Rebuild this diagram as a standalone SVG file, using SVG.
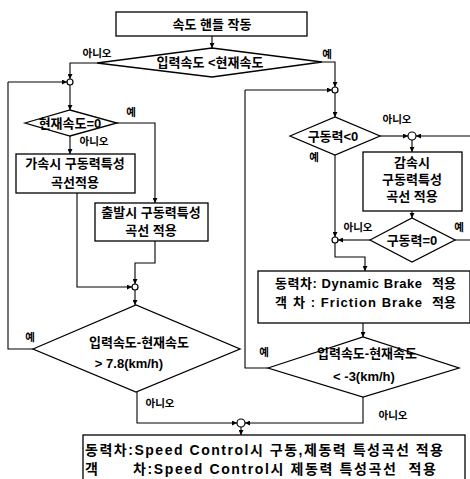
<svg xmlns="http://www.w3.org/2000/svg" width="470" height="479" viewBox="0 0 470 479">
<defs>
<marker id="ah" viewBox="0 0 10 10" refX="10" refY="5" markerWidth="5" markerHeight="5" orient="auto" markerUnits="userSpaceOnUse">
<path d="M0,0 L10,5 L0,10 z" fill="#000"/>
</marker>
<style>
.box{fill:#fff;stroke:#000;stroke-width:1.3}
.jn{fill:#fff;stroke:#000;stroke-width:1.2}
.ln{fill:none;stroke:#000;stroke-width:1.1;marker-end:url(#ah)}
.pl{fill:none;stroke:#000;stroke-width:1.1}
text{font-family:"Liberation Sans","Noto Sans CJK KR",sans-serif;font-weight:bold;fill:#000;white-space:pre}
.t{font-size:13px;text-anchor:middle}
.d{font-size:13px;text-anchor:middle}
.lb{font-size:10.5px;text-anchor:middle}
.s{font-size:13px}
.b{font-size:14px}
</style>
</defs>
<rect width="470" height="479" fill="#fff"/>

<g id="connectors">
<path class="ln" d="M212,36 V48"/>
<path class="ln" d="M97,63 H70 V79"/>
<path class="pl" d="M33,349 H8 V82"/>
<path class="ln" d="M8,82 H67"/>
<path class="ln" d="M70,85 V110"/>
<path class="ln" d="M117,123 H155 V203"/>
<path class="ln" d="M70,136 V154"/>
<path class="ln" d="M77,193 V287 H132"/>
<path class="ln" d="M155,241 V263 H135 V284"/>
<path class="ln" d="M135,290 V305"/>
<path class="ln" d="M137,392 V423 H237"/>
<path class="ln" d="M363,397 V423 H245"/>
<path class="ln" d="M241,427 V435"/>
<path class="ln" d="M322,62 H335 V87"/>
<path class="pl" d="M268,368 H245 V90"/>
<path class="ln" d="M245,90 H332"/>
<path class="ln" d="M335,93 V117"/>
<path class="ln" d="M380,136 H408"/>
<path class="ln" d="M455,240 H472 V136 H416"/>
<path class="ln" d="M412,140 V152"/>
<path class="ln" d="M412,211 V218"/>
<path class="ln" d="M370,240 H338"/>
<path class="ln" d="M335,155 V237"/>
<path class="ln" d="M335,243 V257 H365 V271"/>
<path class="ln" d="M363,323 V337"/>
</g>

<g id="junctions">
<circle class="jn" cx="70" cy="82" r="3"/>
<circle class="jn" cx="135" cy="287" r="3"/>
<circle class="jn" cx="241" cy="423" r="4"/>
<circle class="jn" cx="335" cy="90" r="3"/>
<circle class="jn" cx="412" cy="136" r="4"/>
<circle class="jn" cx="335" cy="240" r="3"/>
</g>

<g id="start">
<rect class="box" x="116" y="12" width="191" height="24"/>
<text class="t" x="212" y="29">속도 핸들 작동</text>
</g>

<g id="dec1">
<polygon class="box" points="97,63 212,48 322,62 212,77"/>
<text class="t" x="210" y="67">입력속도 &lt;현재속도</text>
<text class="lb" x="97" y="57">아니오</text>
<text class="lb" x="327" y="58">예</text>
</g>

<g id="dec2">
<polygon class="box" points="25,123 70,110 117,123 70,136"/>
<text class="d" x="70" y="128">현재속도=0</text>
<text class="lb" x="131" y="116">예</text>
<text class="lb" x="94" y="145">아니오</text>
</g>

<g id="box-accel">
<rect class="box" x="16" y="154" width="119" height="39"/>
<text class="t" x="75" y="168">가속시 구동력특성</text>
<text class="t" x="75" y="187">곡선적용</text>
</g>

<g id="box-start">
<rect class="box" x="95" y="203" width="113" height="38"/>
<text class="t" x="151" y="217">출발시 구동력특성</text>
<text class="t" x="151" y="235">곡선 적용</text>
</g>

<g id="dec3">
<polygon class="box" points="33,349 136,305 240,349 136,392"/>
<text class="t" x="139" y="347" font-size="14">입력속도-현재속도</text>
<text class="t" x="129" y="368" font-size="14">&gt; 7.8(km/h)</text>
<text class="lb" x="30" y="341">예</text>
<text class="lb" x="160" y="407">아니오</text>
</g>

<g id="dec4">
<polygon class="box" points="290,136 335,117 380,136 335,155"/>
<text class="d" x="333" y="141" font-size="12">구동력&lt;0</text>
<text class="lb" x="397" y="123">아니오</text>
<text class="lb" x="314" y="161">예</text>
</g>

<g id="box-decel">
<rect class="box" x="363" y="152" width="99" height="59"/>
<text class="t" x="412" y="167">감속시</text>
<text class="t" x="412" y="184">구동력특성</text>
<text class="t" x="412" y="201">곡선 적용</text>
</g>

<g id="dec6">
<polygon class="box" points="370,240 412,218 455,240 412,262"/>
<text class="d" x="412" y="245">구동력=0</text>
<text class="lb" x="358" y="231">아니오</text>
<text class="lb" x="459" y="231">예</text>
</g>

<g id="box-brake">
<rect class="box" x="258" y="271" width="212" height="52"/>
<text class="s" x="275" y="288" textLength="147" lengthAdjust="spacing">동력차: Dynamic Brake</text>
<text class="s" x="432" y="288">적용</text>
<text class="s" x="275" y="307">객</text>
<text class="s" x="293" y="307" textLength="129" lengthAdjust="spacing">차 : Friction Brake</text>
<text class="s" x="432" y="307">적용</text>
</g>

<g id="dec5">
<polygon class="box" points="268,368 363,337 459,368 363,397"/>
<text class="t" x="367" y="358" font-size="14">입력속도-현재속도</text>
<text class="t" x="364" y="381" font-size="14">&lt; -3(km/h)</text>
<text class="lb" x="264" y="356">예</text>
<text class="lb" x="393" y="419">아니오</text>
</g>

<g id="box-end">
<rect class="box" x="83" y="435" width="382" height="50"/>
<text class="b" x="85" y="455" textLength="358" lengthAdjust="spacing">동력차:Speed Control시 구동,제동력 특성곡선 적용</text>
<text class="b" x="85" y="474">객</text>
<text class="b" x="133" y="474" textLength="303" lengthAdjust="spacing">차:Speed Control시 제동력 특성곡선  적용</text>
</g>
</svg>
